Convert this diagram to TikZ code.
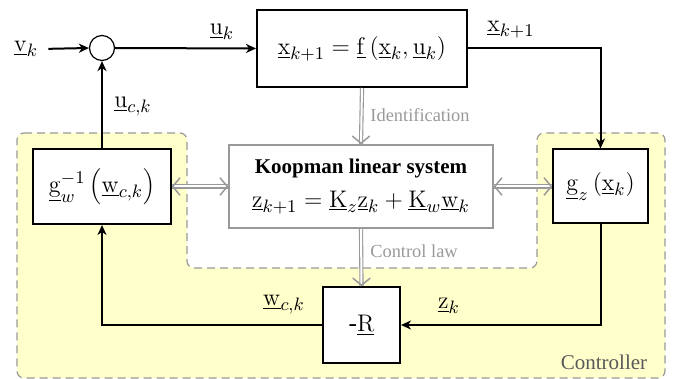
\documentclass[tikz,border=0pt]{standalone}
\usepackage[no-math]{fontspec}
\setmainfont{Liberation Serif}
\usetikzlibrary{arrows.meta}
\newcommand{\uv}[1]{\underline{\mathrm{#1}}}
\newcommand{\mfont}{\fontsize{12.6pt}{15pt}\selectfont}
\newcommand{\tfont}{\fontsize{10.5pt}{12.6pt}\selectfont}
\newcommand{\sfont}{\fontsize{9.2pt}{11pt}\selectfont}
\definecolor{ctrlyellow}{RGB}{255,255,204}
\tikzset{
  blk/.style n args={2}{draw=black, line width=1pt, fill=white, minimum width=#1, minimum height=#2, inner sep=0pt, font=\mfont},
  arr/.style={line width=1pt, -{Stealth[length=5pt,width=4.5pt,inset=1.5pt]}},
  garr/.style={draw=gray!80, double=white, double distance=1pt, line width=0.55pt},
  gbarb/.style={draw=gray!80, line width=0.75pt, -{Straight Barb[length=3.5pt,width=8.5pt,line cap=round,line join=round]}},
  lbl/.style={inner sep=1pt, font=\mfont},
  glbl/.style={inner sep=1pt, text=gray!80, font=\sfont},
}
\begin{document}
\begin{tikzpicture}[x=0.5pt,y=-0.5pt]
\useasboundingbox (0,0) rectangle (674,379);
% controller region
\path[fill=ctrlyellow, draw=gray!80, line width=0.6pt, dash pattern=on 4pt off 2.5pt, rounded corners=3.5pt]
  (17,133) -- (187,133) -- (187,268) -- (537,268) -- (537,133) -- (665,133) -- (665,378) -- (17,378) -- cycle;
% nodes
\node[blk={105pt}{38.5pt}] (plant) at (362,48.5) {$\uv{x}_{k+1}=\uv{f}\left(\uv{x}_k,\uv{u}_k\right)$};
\node[blk={132pt}{41.5pt}, draw=gray!80, align=center, font=\tfont] (koop) at (361,186.5)
  {\textbf{Koopman linear system}\\[4pt] {\mfont$\uv{z}_{k+1}=\uv{K}_z\uv{z}_k+\uv{K}_w\uv{w}_k$}};
\node[blk={69pt}{37.5pt}] (gw) at (102,186.5) {$\uv{g}_w^{-1}\left(\uv{w}_{c,k}\right)$};
\node[blk={47.5pt}{37pt}] (gz) at (600.5,186.5) {$\uv{g}_z\left(\uv{x}_k\right)$};
\node[blk={38.5pt}{38pt}] (R) at (361.5,325) {-$\uv{R}$};
\node[circle, draw, line width=0.6pt, minimum size=12.5pt, inner sep=0pt, fill=white] (sum) at (102,48) {};
\node[lbl] (v) at (26,49) {$\uv{v}_k$};
% connectors
\draw[arr, shorten <=4pt] (v.east) -- (sum.west);
\draw[arr] (sum.east) -- (plant.west);
\draw[arr] (plant.east) -| (gz.north);
\draw[arr] (gz.south) |- (R.east);
\draw[arr] (R.west) -| (gw.south);
\draw[arr] (gw.north) -- (sum.south);
% gray double arrows
\draw[garr] (plant.south) -- (koop.north);
\draw[gbarb] ([yshift=0.4pt]koop.north) -- (koop.north);
\draw[garr] (koop.south) -- (R.north);
\draw[gbarb] ([yshift=0.4pt]R.north) -- (R.north);
\draw[garr] (gw.east) -- (koop.west);
\draw[gbarb] ([xshift=0.4pt]gw.east) -- (gw.east);
\draw[gbarb] ([xshift=-0.4pt]koop.west) -- (koop.west);
\draw[garr] (koop.east) -- (gz.west);
\draw[gbarb] ([xshift=0.4pt]koop.east) -- (koop.east);
\draw[gbarb] ([xshift=-0.4pt]gz.west) -- (gz.west);
% labels
\node[lbl] (lu) at (222,32) {$\uv{u}_k$};
\node[lbl] (lx) at (511,30) {$\uv{x}_{k+1}$};
\node[lbl] (luc) at (133,107) {$\uv{u}_{c,k}$};
\node[lbl] (lw) at (284,305) {$\uv{w}_{c,k}$};
\node[lbl] (lz) at (449,306) {$\uv{z}_k$};
\node[glbl] (lid) at (420,115) {Identification};
\node[glbl] (lcl) at (414,251) {Control law};
\node[inner sep=1pt, text=black!65, font=\tfont] (lctrl) at (604,362) {Controller};
\end{tikzpicture}
\end{document}
